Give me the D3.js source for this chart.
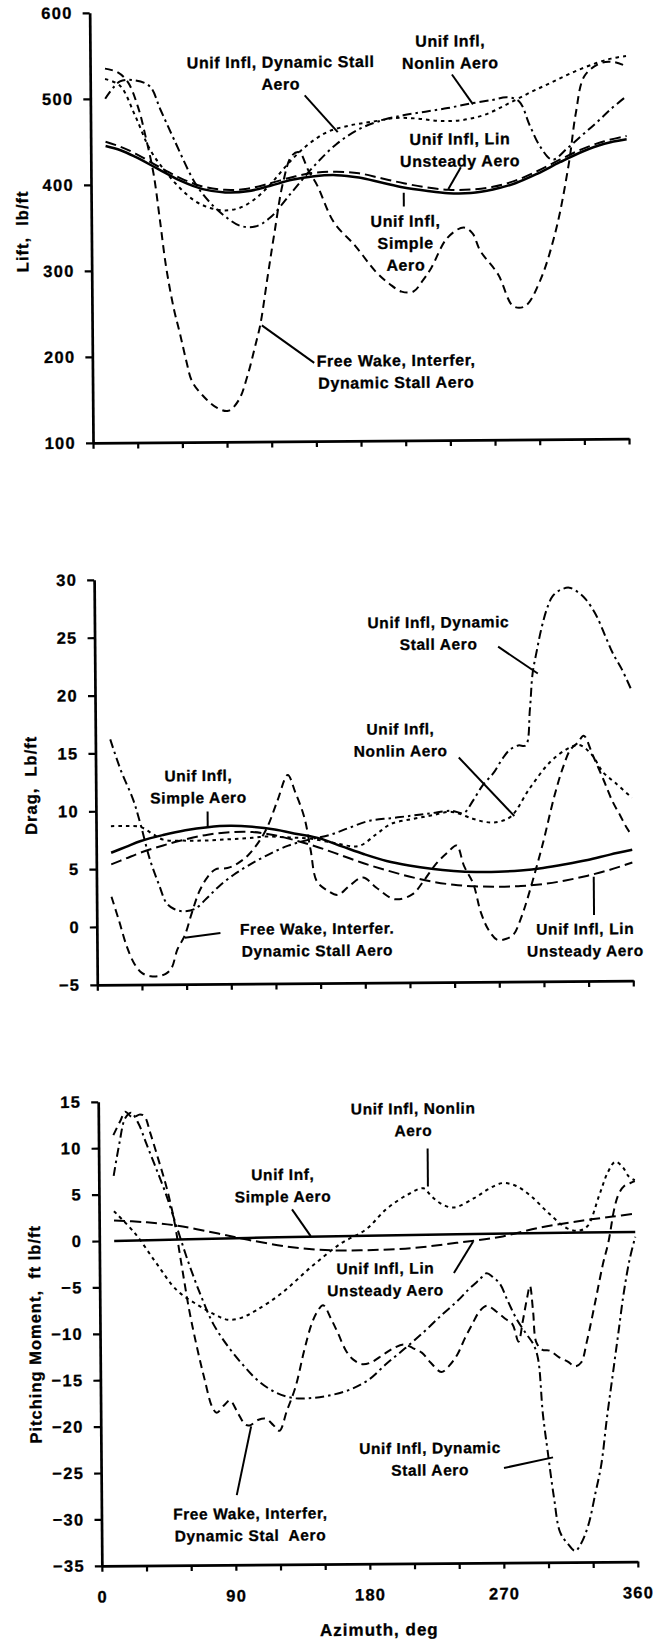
<!DOCTYPE html>
<html>
<head>
<meta charset="utf-8">
<script src="https://cdn.jsdelivr.net/npm/d3@7"></script>
<style>
  body { margin: 0; background: #fff; }
  svg text { font-family: "Liberation Sans", Arial, Helvetica, sans-serif; font-weight: bold; fill: #000; }
</style>
</head>
<body>
<svg id="chart" width="654" height="1642"></svg>
<script>
// ---------- Lift, lb/ft ----------
const liftSimpleAz  = [10,20,30,45,60,75,90,105,120,135,150,165,180,195,210,225,240,255,270,285,300,315,330,345,360];
const liftSimple    = [445,440,432,418,404,394,390,391,397,404,408,409,406,400,394,390,387,387,391,398,409,422,434,443,448];
const liftLinAz     = liftSimpleAz;
const liftLin       = [450,444,436,421,407,397,393,394,400,407,412,413,411,405,399,394,391,391,394,401,412,425,437,446,452];
const liftNonlinAz  = [10,20,30,40,50,60,70,80,90,100,110,120,130,140,150,160,175,190,205,220,235,250,265,280,295,310,325,340,350,360];
const liftNonlin    = [523,515,480,440,415,395,380,372,369,372,382,398,418,436,450,460,467,471,475,474,471,472,478,490,503,515,527,537,542,545];
const liftDynAz     = [10,20,30,40,47,56,70,80,90,100,110,120,135,150,165,180,195,210,225,240,255,270,280,288,295,302,310,320,330,340,350,360];
const liftDyn       = [500,520,521,514,487,452,401,378,362,351,350,360,390,420,445,462,472,478,482,486,491,495,498,493,465,440,425,438,453,468,484,498];
const liftFreeAz    = [10,18,25,32,37,42,46,50,55,59,63,67,75,83,91,98,104,110,113,118,123,129,135,140,146,152,163,177,191,200,208,216,222,228,239,250,256,261,273,283,291,301,312,321,326,332,343,352,360];
const liftFree      = [535,531,520,490,455,413,360,304,255,226,195,170,152,140,136,148,176,215,236,290,343,401,432,436,415,397,354,327,296,282,273,273,285,300,335,347,340,320,292,255,255,284,343,420,479,522,537,538,533];

// ---------- Drag, Lb/ft ----------
const dragSimpleAz  = [10,20,30,45,60,75,90,105,120,135,150,165,180,195,210,225,240,255,270,285,300,315,330,345,360];
const dragSimple    = [6.4,6.9,7.4,7.9,8.3,8.55,8.65,8.55,8.3,7.9,7.5,6.8,6.1,5.5,5.1,4.8,4.6,4.5,4.5,4.6,4.8,5.1,5.45,5.9,6.3];
const dragLinAz     = dragSimpleAz;
const dragLin       = [5.4,5.9,6.4,7.0,7.5,7.9,8.1,8.1,7.8,7.3,6.7,6.0,5.3,4.7,4.15,3.7,3.4,3.25,3.2,3.25,3.4,3.7,4.1,4.6,5.2];
const dragNonlinAz  = [10,20,30,38,45,60,75,91,105,115,130,143,160,176,188,198,212,225,239,253,262,270,279,291,305,316,325,333,341,349,360];
const dragNonlin    = [8.7,8.7,8.6,8.0,7.5,7.4,7.4,7.5,7.6,7.7,7.6,7.5,7.1,6.8,7.8,8.7,9.1,9.4,9.7,9.1,8.8,8.8,9.3,11.6,13.9,15.0,15.4,14.6,13.0,12.1,10.8];
const dragDynAz     = [10,17,25,30,36,42,47,52,58,66,74,82,92,102,115,129,143,157,170,184,198,212,225,239,247,253,260,267,273,278,284,289,292,294,297,300,304,308,313,319,325,330,337,343,348,354,360];
const dragDyn       = [16.2,13.5,11.0,8.8,5.8,3.6,2.0,1.5,1.3,1.5,2.4,3.4,4.4,5.2,6.1,6.9,7.4,7.8,8.4,9.0,9.2,9.4,9.6,9.8,9.6,10.6,12.0,13.0,14.2,15.0,15.4,15.4,18.5,21.6,23.6,25.4,27.2,28.3,28.8,29.0,28.6,28.0,26.6,24.8,23.3,21.9,20.2];
const dragFreeAz    = [10,15,20,25,30,36,41,46,50,54,59,64,69,75,80,88,95,102,109,115,122,129,134,140,144,148,155,162,170,179,188,200,212,220,228,236,242,247,253,258,263,269,275,280,285,289,295,300,308,314,319,324,328,334,341,347,352,356,360];
const dragFree      = [2.6,0.5,-1.7,-3.2,-4.0,-4.3,-4.3,-4.1,-3.6,-2.0,-0.8,1.2,3.0,4.3,4.9,5.0,5.4,6.1,7.2,8.5,10.8,13.0,11.5,9.3,6.5,3.8,3.0,2.6,3.4,4.1,3.2,2.2,2.6,3.8,5.2,6.2,6.8,5.0,3.5,1.0,-0.5,-1.4,-1.3,-0.9,0.5,2.0,4.6,6.9,11.0,13.5,15.0,15.6,16.2,14.5,12.4,10.5,9.3,8.3,7.5];

// ---------- Pitching Moment, ft lb/ft ----------
const pmSimpleAz    = [10,60,120,180,240,300,360];
const pmSimple      = [0.0,0.1,0.25,0.35,0.42,0.48,0.52];
const pmLinAz       = [10,30,52,80,100,128,156,184,212,240,269,297,325,345,360];
const pmLin         = [2.2,2.0,1.6,0.7,0.0,-0.8,-1.2,-1.2,-1.0,-0.5,0.1,1.1,1.8,2.2,2.5];
const pmNonlinAz    = [10,24,38,52,66,78,86,95,105,122,142,162,179,193,207,218,223,229,238,252,262,271,280,290,302,314,322,328,336,342,347,352,356,360];
const pmNonlin      = [3.2,0.8,-2.4,-5.4,-7.0,-8.1,-8.6,-8.4,-7.6,-5.8,-3.0,-0.5,1.0,3.2,4.7,5.4,4.6,3.8,3.3,4.3,5.3,5.9,5.6,4.5,2.6,1.0,0.7,1.2,4.5,7.0,8.1,7.5,6.5,6.1];
const pmDynAz       = [10,14,18,22,27,32,38,45,52,60,68,76,86,96,106,118,130,142,155,168,180,192,205,218,230,240,248,255,260,264,269,274,280,286,291,294,297,300,304,308,313,318,322,327,332,336,340,344,348,352,356,360];
const pmDyn         = [7.0,10.5,13.2,13.8,12.6,10.5,8.0,5.0,1.5,-2.5,-6.0,-9.0,-11.5,-13.5,-15.2,-16.5,-17.1,-17.1,-16.8,-16.2,-15.2,-13.5,-11.8,-10.0,-8.2,-6.8,-5.5,-4.5,-3.8,-4.2,-5.0,-6.8,-8.8,-10.3,-11.5,-13.0,-19.0,-23.0,-28.0,-31.8,-33.0,-33.8,-33.0,-31.0,-27.5,-24.5,-19.5,-15.0,-10.5,-6.0,-2.5,0.0];
const pmFreeAz      = [10,15,18,23,28,31,35,40,45,50,55,60,65,70,75,78,83,87,92,97,100,106,111,116,120,125,131,137,142,146,150,155,160,165,170,176,182,190,197,204,210,216,222,229,234,240,245,250,255,260,266,272,277,281,284,287,289,291,293,297,302,308,314,319,323,327,333,338,342,346,349,353,357,360];
const pmFree        = [11.4,13.0,13.9,13.3,13.6,13.4,11.5,8.8,6.0,2.5,-2.5,-7.5,-11.5,-15.0,-18.0,-18.6,-17.8,-17.3,-18.6,-19.9,-20.0,-19.4,-19.3,-20.0,-20.6,-18.5,-15.9,-12.0,-9.2,-7.8,-7.1,-8.5,-10.2,-12.0,-13.0,-13.5,-13.3,-12.5,-11.8,-11.4,-11.8,-12.3,-13.4,-14.4,-13.8,-12.5,-10.8,-9.3,-7.9,-7.3,-7.9,-8.7,-9.3,-11.2,-9.0,-6.5,-5.2,-8.0,-11.3,-12.1,-12.2,-12.9,-13.4,-13.9,-13.5,-11.2,-6.8,-3.0,-0.5,3.0,4.6,5.5,5.8,6.0];

// ---------- Axis tick values ----------
const azTicks       = d3.range(0, 361, 30);
const azTickLabels  = [0, 90, 180, 270, 360];
const liftTicks     = [100, 200, 300, 400, 500, 600];
const dragTicks     = [-5, 0, 5, 10, 15, 20, 25, 30];
const pmTicks       = [-35, -30, -25, -20, -15, -10, -5, 0, 5, 10, 15];

// Line style for each aerodynamic model
const lineStyle = {
  simple: { dash: null,          width: 2.5 },
  lin:    { dash: "11,5",        width: 2 },
  nonlin: { dash: "3.5,4",       width: 2 },
  dyn:    { dash: "9,4,2.5,4",   width: 2 },
  free:   { dash: "8,5",         width: 2 }
};

// Panels: domain, pixel band, series and callouts
const panels = [
  {
    title: "Lift,  lb/ft", domain: [100, 600], top: 11, bottom: 441, ticks: liftTicks,
    titlePos: [27, 229], labelSize: 16,
    series: [
      ["simple", liftSimpleAz, liftSimple], ["lin", liftLinAz, liftLin],
      ["nonlin", liftNonlinAz, liftNonlin], ["dyn", liftDynAz, liftDyn], ["free", liftFreeAz, liftFree]
    ],
    notes: [
      { text: ["Unif Infl, Dynamic Stall", "Aero"], at: [128, 541], ptr: [144, 502, 166, 459] },
      { text: ["Unif Infl,", "Nonlin Aero"], at: [242, 564], ptr: [243, 525, 257, 490] },
      { text: ["Unif Infl, Lin", "Unsteady Aero"], at: [248, 450], ptr: [248.5, 417, 240, 392] },
      { text: ["Unif Infl,", "Simple", "Aero"], at: [211, 355], ptr: [210, 388, 210, 372] },
      { text: ["Free Wake, Interfer,", "Dynamic Stall Aero"], at: [204, 193], ptr: [149, 191, 114, 235] }
    ]
  },
  {
    title: "Drag,  Lb/ft", domain: [-5, 30], top: 578, bottom: 983, ticks: dragTicks,
    titlePos: [31, 783], labelSize: 15.5,
    series: [
      ["simple", dragSimpleAz, dragSimple], ["lin", dragLinAz, dragLin],
      ["nonlin", dragNonlinAz, dragNonlin], ["dyn", dragDynAz, dragDyn], ["free", dragFreeAz, dragFree]
    ],
    notes: [
      { text: ["Unif Infl, Dynamic", "Stall Aero"], at: [231, 26.1], ptr: [271, 23.95, 297.5, 21.6] },
      { text: ["Unif Infl,", "Nonlin Aero"], at: [205, 16.9], ptr: [244, 14.4, 281, 9.3] },
      { text: ["Unif Infl,", "Simple Aero"], at: [69, 13.0], ptr: [75, 9.9, 75, 8.5] },
      { text: ["Free Wake, Interfer.", "Dynamic Stall Aero"], at: [148, -0.3], ptr: [83, -0.6, 59, -1.0] },
      { text: ["Unif Infl, Lin", "Unsteady Aero"], at: [328, -0.5], ptr: [334, 0.7, 334, 4.0] }
    ]
  },
  {
    title: "Pitching Moment,  ft lb/ft", domain: [-35, 15], top: 1100, bottom: 1564, ticks: pmTicks,
    titlePos: [31, 1332], labelSize: 15.5, tickLabels: true,
    series: [
      ["simple", pmSimpleAz, pmSimple], ["lin", pmLinAz, pmLin],
      ["nonlin", pmNonlinAz, pmNonlin], ["dyn", pmDynAz, pmDyn], ["free", pmFreeAz, pmFree]
    ],
    notes: [
      { text: ["Unif Infl, Nonlin", "Aero"], at: [211.5, 14.0], ptr: [221, 9.7, 221, 5.6] },
      { text: ["Unif Inf,", "Simple Aero"], at: [123.6, 7.0], ptr: [129.6, 3.25, 142, 0.35] },
      { text: ["Unif Infl, Lin", "Unsteady Aero"], at: [192, -3.2], ptr: [238, -3.75, 251, -0.4] },
      { text: ["Unif Infl, Dynamic", "Stall Aero"], at: [221, -22.6], ptr: [270.6, -24.8, 303.6, -23.7] },
      { text: ["Free Wake, Interfer,", "Dynamic Stal  Aero"], at: [100, -29.5], ptr: [91, -27.5, 101, -20.1] }
    ]
  }
];

const svg = d3.select("#chart");
// the whole sheet sits very slightly tilted
const sheet = svg.append("g").attr("transform", "rotate(-0.45 327 821)");

const x = d3.scaleLinear().domain([0, 360]).range([96, 632]);
const lineGap = 22;

function styleTickText(sel) {
  sel.attr("font-size", 16.5).attr("letter-spacing", 1.3)
    .attr("font-family", "'Liberation Sans', Arial, sans-serif").attr("font-weight", "bold")
    .attr("stroke", "#000").attr("stroke-width", 0.3);
}

panels.forEach(p => {
  const y = d3.scaleLinear().domain(p.domain).range([p.bottom, p.top]);
  const g = sheet.append("g");

  // series curves
  const line = d3.line().x(d => x(d[0])).y(d => y(d[1])).curve(d3.curveCatmullRom.alpha(0.5));
  p.series.forEach(([key, az, vals]) => {
    const st = lineStyle[key];
    g.append("path")
      .datum(az.map((a, i) => [a, vals[i]]))
      .attr("d", line)
      .attr("fill", "none")
      .attr("stroke", "#000")
      .attr("stroke-width", st.width)
      .attr("stroke-dasharray", st.dash)
      .attr("stroke-linejoin", "round");
  });

  // y axis
  const yAxis = g.append("g").attr("transform", `translate(${x(0)},0)`)
    .call(d3.axisLeft(y).tickValues(p.ticks).tickSize(7).tickSizeOuter(0).tickPadding(10).tickFormat(d3.format("d")));
  yAxis.select(".domain").attr("stroke-width", 2.7);
  yAxis.selectAll(".tick line").attr("stroke-width", 2.2);
  styleTickText(yAxis.selectAll("text"));

  // azimuth axis
  const xAxis = g.append("g").attr("transform", `translate(0,${p.bottom})`)
    .call(d3.axisBottom(x).tickValues(azTicks).tickSize(6).tickSizeOuter(0).tickPadding(19)
      .tickFormat(d => (p.tickLabels && azTickLabels.includes(d)) ? d : ""));
  xAxis.select(".domain").attr("stroke-width", 2.7);
  xAxis.selectAll(".tick line").attr("stroke-width", 2.2);
  styleTickText(xAxis.selectAll("text"));

  // axis title
  g.append("text")
    .attr("transform", `translate(${p.titlePos[0]},${p.titlePos[1]}) rotate(-90)`)
    .attr("text-anchor", "middle").attr("dy", "0.35em")
    .attr("font-size", 16.5).attr("letter-spacing", 1)
    .attr("stroke", "#000").attr("stroke-width", 0.3)
    .style("white-space", "pre")
    .text(p.title);

  // callouts
  p.notes.forEach(n => {
    g.append("line")
      .attr("x1", x(n.ptr[0])).attr("y1", y(n.ptr[1]))
      .attr("x2", x(n.ptr[2])).attr("y2", y(n.ptr[3]))
      .attr("stroke", "#000").attr("stroke-width", 2);
    const t = g.append("text")
      .attr("text-anchor", "middle")
      .attr("font-size", p.labelSize).attr("letter-spacing", 0.6)
      .attr("stroke", "#000").attr("stroke-width", 0.3)
      .style("white-space", "pre");
    n.text.forEach((s, i) => {
      t.append("tspan").attr("x", x(n.at[0])).attr("y", y(n.at[1]) + i * lineGap)
        .attr("dy", "0.35em").text(s);
    });
  });
});

// bottom title
sheet.append("text")
  .attr("x", 373).attr("y", 1630).attr("dy", "0.35em")
  .attr("text-anchor", "middle").attr("font-size", 17).attr("letter-spacing", 1)
  .attr("stroke", "#000").attr("stroke-width", 0.3)
  .text("Azimuth, deg");
</script>
</body>
</html>
